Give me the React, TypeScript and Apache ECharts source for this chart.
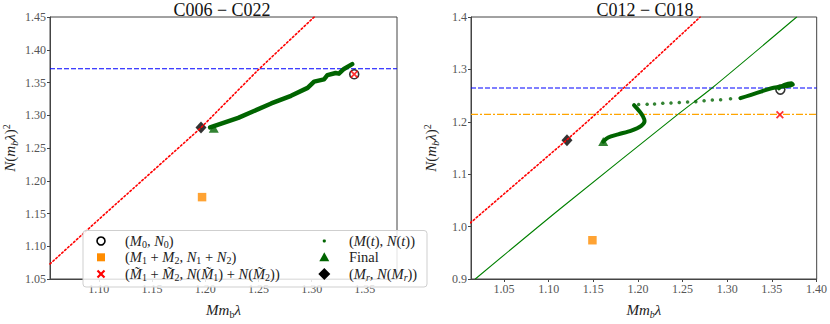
import React, { useEffect, useRef } from "react";
import * as echarts from "echarts";

const leftTitle = "C006 − C022";
const rightTitle = "C012 − C018";

const leftXTicks = [1.1, 1.15, 1.2, 1.25, 1.3, 1.35];
const leftYTicks = [1.05, 1.1, 1.15, 1.2, 1.25, 1.3, 1.35, 1.4, 1.45];
const rightXTicks = [1.05, 1.1, 1.15, 1.2, 1.25, 1.3, 1.35, 1.4];
const rightYTicks = [0.9, 1.0, 1.1, 1.2, 1.3, 1.4];

const leftXRange = [1.0541, 1.3802];
const leftYRange = [1.05, 1.45];
const rightXRange = [1.013, 1.4002];
const rightYRange = [0.9, 1.4];

// Left panel (C006 - C022)
const leftRedCurve = [
  [1.0541, 1.073],
  [1.1, 1.141],
  [1.196, 1.281],
  [1.2508, 1.371],
  [1.3024, 1.45],
];
const leftBlueLevel = 1.371;
const leftTrajectory = [
  [1.3381, 1.378],
  [1.3303, 1.3707],
  [1.3256, 1.3635],
  [1.3225, 1.3645],
  [1.3148, 1.3612],
  [1.3116, 1.3548],
  [1.3023, 1.3514],
  [1.2962, 1.3418],
  [1.2806, 1.3297],
  [1.262, 1.318],
  [1.231, 1.296],
  [1.2046, 1.2814],
];
const leftFinal = [1.208, 1.28];
const leftM0 = [1.34, 1.3626];
const leftSum = [1.197, 1.175];
const leftTildeSum = [1.34, 1.3626];
const leftMr = [1.196, 1.2814];

// Right panel (C012 - C018)
const rightRedCurve = [
  [1.0122, 1.007],
  [1.12, 1.165],
  [1.15, 1.2105],
  [1.2697, 1.4],
];
const rightGreenCurve = [
  [1.0178, 0.9],
  [1.115, 1.037],
  [1.2444, 1.2136],
  [1.2833, 1.265],
  [1.3778, 1.4],
];
const rightBlueLevel = 1.2645;
const rightOrangeLevel = 1.2143;
const rightTrajectoryStart = [
  [1.358, 1.264],
  [1.364, 1.2705],
  [1.372, 1.2735],
  [1.3735, 1.2705],
  [1.366, 1.2685],
  [1.352, 1.265],
  [1.3333, 1.2553],
  [1.3148, 1.245],
];
const rightTrajectoryDots = [
  [1.3037, 1.2439],
  [1.2926, 1.2421],
  [1.2833, 1.2414],
  [1.2741, 1.2403],
  [1.2648, 1.2385],
  [1.2556, 1.2378],
  [1.2463, 1.2367],
  [1.237, 1.2359],
  [1.2278, 1.2354],
  [1.2186, 1.2341],
  [1.2103, 1.2336],
  [1.2008, 1.233],
];
const rightTrajectoryEnd = [
  [1.1956, 1.2318],
  [1.2019, 1.2196],
  [1.2056, 1.2105],
  [1.2074, 1.2015],
  [1.2037, 1.1924],
  [1.1926, 1.1833],
  [1.1778, 1.176],
  [1.1667, 1.17],
  [1.1611, 1.1622],
];
const rightFinal = [1.1611, 1.1622];
const rightM0 = [1.3595, 1.2615];
const rightSum = [1.149, 0.974];
const rightTildeSum = [1.359, 1.2136];
const rightMr = [1.1205, 1.1646];

const legendLabels = [
  "{p|(}{i|M}{s|0}{p|, }{i|N}{s|0}{p|)}",
  "{p|(}{i|M}{s|1}{p| + }{i|M}{s|2}{p|, }{i|N}{s|1}{p| + }{i|N}{s|2}{p|)}",
  "{p|(}{i|M̃}{s|1}{p| + }{i|M̃}{s|2}{p|, }{i|N}{p|(}{i|M̃}{s|1}{p|) + }{i|N}{p|(}{i|M̃}{s|2}{p|))}",
  "{p|(}{i|M}{p|(}{i|t}{p|), }{i|N}{p|(}{i|t}{p|))}",
  "{p|Final}",
  "{p|(}{i|M}{si|r}{p|, }{i|N}{p|(}{i|M}{si|r}{p|))}",
];

const FONT = "Liberation Serif";
const AX = "#444";
const DARKGREEN = "#006400";
const XPATH =
  "path://M0,1.6L1.6,0L5,3.4L8.4,0L10,1.6L6.6,5L10,8.4L8.4,10L5,6.6L1.6,10L0,8.4L3.4,5Z";

const nameRich = {
  i: { fontFamily: FONT, fontStyle: "italic", fontSize: 15, color: "#222", lineHeight: 18 },
  p: { fontFamily: FONT, fontSize: 15, color: "#222", lineHeight: 18 },
  s: { fontFamily: FONT, fontSize: 10, color: "#222", lineHeight: 10, verticalAlign: "bottom" },
  sb: { fontFamily: FONT, fontStyle: "italic", fontSize: 10, color: "#222", lineHeight: 10, verticalAlign: "bottom" },
  sp: { fontFamily: FONT, fontSize: 10, color: "#222", lineHeight: 10, verticalAlign: "top" },
};

const legendRich = {
  i: { fontFamily: FONT, fontStyle: "italic", fontSize: 14.5, fill: "#222", lineHeight: 16 },
  p: { fontFamily: FONT, fontSize: 14.5, fill: "#222", lineHeight: 16 },
  s: { fontFamily: FONT, fontSize: 10, fill: "#222", lineHeight: 9, verticalAlign: "bottom" },
  si: { fontFamily: FONT, fontStyle: "italic", fontSize: 10, fill: "#222", lineHeight: 9, verticalAlign: "bottom" },
};

function xAxisDef(idx: number, range: number[], ticks: number[], name: string) {
  return {
    type: "value",
    gridIndex: idx,
    min: range[0],
    max: range[1],
    name,
    nameLocation: "middle",
    nameGap: 22,
    nameTextStyle: { rich: nameRich },
    axisLine: { show: true, lineStyle: { color: AX, width: 1 } },
    axisTick: { show: true, customValues: ticks, length: 3, lineStyle: { color: AX } },
    axisLabel: {
      customValues: ticks,
      formatter: (v: number) => v.toFixed(2),
      fontFamily: FONT,
      fontSize: 12,
      color: "#555",
      margin: 4,
    },
    splitLine: { show: false },
  };
}

function yAxisDef(idx: number, range: number[], ticks: number[], digits: number) {
  return {
    type: "value",
    gridIndex: idx,
    min: range[0],
    max: range[1],
    name: "{i|N}{p|(}{i|m}{sb|b}{i|λ}{p|)}{sp|2}",
    nameLocation: "middle",
    nameGap: 31,
    nameTextStyle: { rich: nameRich },
    axisLine: { show: true, lineStyle: { color: AX, width: 1 } },
    axisTick: { show: true, customValues: ticks, length: 3, lineStyle: { color: AX } },
    axisLabel: {
      customValues: ticks,
      formatter: (v: number) => v.toFixed(digits),
      fontFamily: FONT,
      fontSize: 12,
      color: "#555",
      margin: 4,
    },
    splitLine: { show: false },
  };
}

function lineSeries(idx: number, data: number[][], color: string, width: number, type: any, z: number, smooth: any = false) {
  return {
    type: "line",
    xAxisIndex: idx,
    yAxisIndex: idx,
    data,
    symbol: "none",
    showSymbol: false,
    smooth,
    silent: true,
    z,
    itemStyle: { color },
    lineStyle: { color, width, type, cap: "round", join: "round" },
  };
}

function levelLine(idx: number, xr: number[], level: number, color: string, type: any, width: number, z: number) {
  return {
    type: "line",
    xAxisIndex: idx,
    yAxisIndex: idx,
    data: [
      [xr[0], level],
      [xr[1], level],
    ],
    symbol: "none",
    showSymbol: false,
    silent: true,
    z,
    itemStyle: { color },
    lineStyle: { color, width, type, opacity: 1 },
  };
}

function scatter(idx: number, data: number[][], symbol: string, size: any, itemStyle: any, z: number) {
  return {
    type: "scatter",
    xAxisIndex: idx,
    yAxisIndex: idx,
    data,
    symbol,
    symbolSize: size,
    itemStyle,
    silent: true,
    z,
  };
}

function buildLegend() {
  const rows = [241, 257.3, 274];
  const c1 = 101;
  const c2 = 324.3;
  const t1 = 125;
  const t2 = 349;
  const els: any[] = [
    {
      type: "rect",
      shape: { x: 83, y: 230.5, width: 344, height: 56.5, r: 3 },
      style: { fill: "rgba(255,255,255,0.85)", stroke: "#cfcfcf", lineWidth: 1 },
      z: 100,
    },
    { type: "circle", shape: { cx: c1, cy: rows[0], r: 4 }, style: { fill: "none", stroke: "#000", lineWidth: 1.6 }, z: 101 },
    { type: "rect", shape: { x: c1 - 4, y: rows[1] - 4, width: 8, height: 8 }, style: { fill: "#ff8c00" }, z: 101 },
    { type: "line", shape: { x1: c1 - 3.5, y1: rows[2] - 3.5, x2: c1 + 3.5, y2: rows[2] + 3.5 }, style: { stroke: "#ff0000", lineWidth: 2.2 }, z: 101 },
    { type: "line", shape: { x1: c1 - 3.5, y1: rows[2] + 3.5, x2: c1 + 3.5, y2: rows[2] - 3.5 }, style: { stroke: "#ff0000", lineWidth: 2.2 }, z: 101 },
    { type: "circle", shape: { cx: c2, cy: rows[0], r: 1.6 }, style: { fill: DARKGREEN }, z: 101 },
    {
      type: "polygon",
      shape: { points: [[c2 - 5, rows[1] + 4], [c2 + 5, rows[1] + 4], [c2, rows[1] - 5]] },
      style: { fill: DARKGREEN },
      z: 101,
    },
    {
      type: "polygon",
      shape: { points: [[c2, rows[2] - 6], [c2 + 6, rows[2]], [c2, rows[2] + 6], [c2 - 6, rows[2]]] },
      style: { fill: "#000" },
      z: 101,
    },
  ];
  legendLabels.forEach((txt, k) => {
    const col = k < 3 ? t1 : t2;
    const row = rows[k % 3];
    els.push({
      type: "text",
      x: col,
      y: row,
      z: 101,
      style: {
        text: txt,
        rich: legendRich,
        fontFamily: FONT,
        fontSize: 14.5,
        fill: "#222",
        align: "left",
        verticalAlign: "middle",
      },
    });
  });
  return els;
}

const hollow = { color: "rgba(0,0,0,0)", borderColor: "#000", borderWidth: 1.6 };
const titleStyle = { fontFamily: FONT, fontSize: 18, fontWeight: "normal", color: "#111" };

const option: any = {
  animation: false,
  backgroundColor: "#fff",
  textStyle: { fontFamily: FONT },
  title: [
    { text: leftTitle, left: 222, top: 1, padding: 0, textAlign: "center", textStyle: titleStyle },
    { text: rightTitle, left: 645, top: 1, padding: 0, textAlign: "center", textStyle: titleStyle },
  ],
  grid: [
    { left: 47, top: 17, width: 350, height: 276, show: true, borderColor: AX, borderWidth: 1, backgroundColor: "transparent" },
    { left: 471, top: 17, width: 348.5, height: 276, show: true, borderColor: AX, borderWidth: 1, backgroundColor: "transparent" },
  ],
  xAxis: [
    xAxisDef(0, leftXRange, leftXTicks, "{i|Mm}{s|b}{i|λ}"),
    xAxisDef(1, rightXRange, rightXTicks, "{i|Mm}{sb|b}{i|λ}"),
  ],
  yAxis: [yAxisDef(0, leftYRange, leftYTicks, 2), yAxisDef(1, rightYRange, rightYTicks, 1)],
  series: [
    // Left panel
    levelLine(0, leftXRange, leftBlueLevel, "#0000ff", [5, 2], 1.1, 1),
    scatter(0, [leftM0], "circle", 9, hollow, 2),
    scatter(0, [leftSum], "rect", 8.5, { color: "#ff8c00" }, 2),
    scatter(0, [leftTildeSum], XPATH, 8, { color: "#ff0000" }, 3),
    lineSeries(0, leftTrajectory, DARKGREEN, 4.5, "solid", 4),
    scatter(0, [leftFinal], "triangle", [10, 9], { color: DARKGREEN }, 5),
    scatter(0, [leftMr], "diamond", [11, 12], { color: "#000" }, 5),
    lineSeries(0, leftRedCurve, "#ff0000", 1.6, [1.6, 2.4], 6),
    // Right panel
    levelLine(1, rightXRange, rightBlueLevel, "#0000ff", [5, 2], 1.1, 1),
    levelLine(1, rightXRange, rightOrangeLevel, "#ffa500", [7, 2, 2, 2], 1.3, 1),
    lineSeries(1, rightGreenCurve, "#008000", 1.1, "solid", 2, 0.3),
    scatter(1, [rightM0], "circle", 9, hollow, 3),
    scatter(1, [rightSum], "rect", 8.5, { color: "#ff8c00" }, 3),
    scatter(1, [rightTildeSum], XPATH, 8, { color: "#ff0000" }, 3),
    lineSeries(1, rightTrajectoryStart, DARKGREEN, 4, "solid", 4, 0.3),
    scatter(1, rightTrajectoryDots, "circle", 3.5, { color: DARKGREEN }, 4),
    lineSeries(1, rightTrajectoryEnd, DARKGREEN, 4, "solid", 4, 0.3),
    scatter(1, [rightFinal], "triangle", [10, 9], { color: DARKGREEN }, 5),
    scatter(1, [rightMr], "diamond", [11, 12], { color: "#000" }, 5),
    lineSeries(1, rightRedCurve, "#ff0000", 1.6, [1.6, 2.4], 6),
  ],
  graphic: buildLegend(),
};

export default function App() {
  const ref = useRef<HTMLDivElement>(null);
  useEffect(() => {
    if (!ref.current) return;
    const chart = echarts.init(ref.current, null, { renderer: "svg" });
    chart.setOption(option);
    return () => chart.dispose();
  }, []);
  return (
    <div
      ref={ref}
      style={{ position: "fixed", left: 0, top: 0, width: 830, height: 324, background: "#fff" }}
    />
  );
}
